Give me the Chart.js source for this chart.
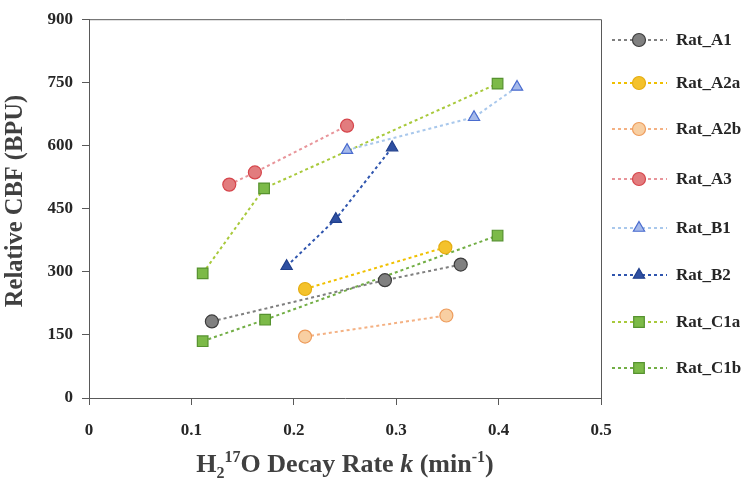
<!DOCTYPE html>
<html>
<head>
<meta charset="utf-8">
<script src="https://cdn.jsdelivr.net/npm/chart.js@4.4.1/dist/chart.umd.min.js"></script>
<style>
  html, body { margin: 0; padding: 0; background: #fff; }
  #wrap { width: 750px; height: 486px; position: relative; }
</style>
</head>
<body>
<div id="wrap"><canvas id="chart"></canvas></div>
<script>
// series names (legend order)
const seriesNames = ["Rat_A1", "Rat_A2a", "Rat_A2b", "Rat_A3", "Rat_B1", "Rat_B2", "Rat_C1a", "Rat_C1b"];

// decay rate k (min-1) and relative CBF (BPU)
const kA1 = [0.120, 0.289, 0.363];
const cbfA1 = [182, 280, 317];
const kA2a = [0.211, 0.348];
const cbfA2a = [259, 358];
const kA2b = [0.211, 0.349];
const cbfA2b = [146, 196];
const kA3 = [0.137, 0.162, 0.252];
const cbfA3 = [507, 536, 647];
const kB1 = [0.252, 0.376, 0.418];
const cbfB1 = [589, 667, 739];
const kB2 = [0.193, 0.241, 0.296];
const cbfB2 = [313, 425, 595];
const kC1a = [0.111, 0.171, 0.399];
const cbfC1a = [296, 498, 747];
const kC1b = [0.111, 0.172, 0.399];
const cbfC1b = [135, 186, 386];

// axis ticks
const xTickValues = [0, 0.1, 0.2, 0.3, 0.4, 0.5];
const yTickValues = [0, 150, 300, 450, 600, 750, 900];

const serif = "'Liberation Serif', 'Times New Roman', serif";

// style per series: marker, fill, edge, line colour
const styles = [
  { shape: "circle", fill: "#808080", edge: "#3d3d3d", line: "#7f7f7f", r: 6.5 },
  { shape: "circle", fill: "#f4c22b", edge: "#e5ad12", line: "#f0c000", r: 6.5 },
  { shape: "circle", fill: "#f8cfa2", edge: "#ee9c5c", line: "#f4b183", r: 6.5 },
  { shape: "circle", fill: "#e27c7e", edge: "#d6464c", line: "#e8959a", r: 6.5 },
  { shape: "triangle", fill: "#a5b9ea", edge: "#4a6ccf", line: "#a9c8ec", r: 6.5 },
  { shape: "triangle", fill: "#2f50a2", edge: "#203f8c", line: "#2f55ae", r: 6.5 },
  { shape: "rect", fill: "#7cba48", edge: "#56922f", line: "#a8c93b", r: 7.5 },
  { shape: "rect", fill: "#7cba48", edge: "#56922f", line: "#72ae45", r: 7.5 }
];

const allK = [kA1, kA2a, kA2b, kA3, kB1, kB2, kC1a, kC1b];
const allCbf = [cbfA1, cbfA2a, cbfA2b, cbfA3, cbfB1, cbfB2, cbfC1a, cbfC1b];

const datasets = seriesNames.map((name, i) => ({
  label: name,
  data: allK[i].map((k, j) => ({ x: k, y: allCbf[i][j] })),
  showLine: true,
  borderColor: styles[i].line,
  borderWidth: 2,
  borderDash: [3, 3],
  pointStyle: styles[i].shape,
  pointRadius: styles[i].r,
  pointBackgroundColor: styles[i].fill,
  pointBorderColor: styles[i].edge,
  pointBorderWidth: 1.2,
  pointHoverRadius: styles[i].r
}));

// small marker helper for the legend
function drawMarker(ctx, st, x, y) {
  ctx.save();
  ctx.fillStyle = st.fill;
  ctx.strokeStyle = st.edge;
  ctx.lineWidth = 1.2;
  ctx.setLineDash([]);
  ctx.beginPath();
  if (st.shape == "circle") {
    ctx.arc(x, y, st.r, 0, Math.PI * 2);
  } else if (st.shape == "triangle") {
    const r = st.r;
    ctx.moveTo(x, y - r);
    ctx.lineTo(x + r * Math.sin(Math.PI / 3), y + r / 2);
    ctx.lineTo(x - r * Math.sin(Math.PI / 3), y + r / 2);
    ctx.closePath();
  } else {
    const s = st.r * Math.SQRT1_2;
    ctx.rect(x - s, y - s, 2 * s, 2 * s);
  }
  ctx.fill();
  ctx.stroke();
  ctx.restore();
}

// frame, axis titles and legend
const extras = {
  id: "extras",
  afterDraw(chart) {
    const ctx = chart.ctx;
    const a = chart.chartArea;

    // top / right frame
    ctx.save();
    ctx.strokeStyle = "#595959";
    ctx.lineWidth = 1;
    ctx.beginPath();
    ctx.moveTo(a.left, a.top + 0.5);
    ctx.lineTo(a.right + 0.5, a.top + 0.5);
    ctx.lineTo(a.right + 0.5, a.bottom);
    ctx.stroke();
    ctx.restore();

    // y title
    ctx.save();
    ctx.translate(16, 201);
    ctx.rotate(-Math.PI / 2);
    ctx.font = "bold 24.5px " + serif;
    ctx.fillStyle = "#404040";
    ctx.textAlign = "center";
    ctx.textBaseline = "middle";
    ctx.fillText("Relative CBF (BPU)", 0, 0);
    ctx.restore();

    // x title with sub/superscripts and italic k
    const big = 26, small = 16;
    const parts = [
      { t: "H", f: "bold " + big + "px ", dy: 0 },
      { t: "2", f: "bold " + small + "px ", dy: 6 },
      { t: "17", f: "bold " + small + "px ", dy: -10 },
      { t: "O Decay Rate ", f: "bold " + big + "px ", dy: 0 },
      { t: "k", f: "italic bold " + big + "px ", dy: 0 },
      { t: " (min", f: "bold " + big + "px ", dy: 0 },
      { t: "-1", f: "bold " + small + "px ", dy: -10 },
      { t: ")", f: "bold " + big + "px ", dy: 0 }
    ];
    ctx.save();
    ctx.fillStyle = "#404040";
    ctx.textBaseline = "alphabetic";
    let total = 0;
    parts.forEach(p => { ctx.font = p.f + serif; total += ctx.measureText(p.t).width; });
    let x = 345 - total / 2;
    parts.forEach(p => {
      ctx.font = p.f + serif;
      ctx.fillText(p.t, x, 472 + p.dy);
      x += ctx.measureText(p.t).width;
    });
    ctx.restore();

    // legend
    ctx.save();
    const legendY = [40, 83, 129, 179, 228, 275, 322, 368];
    seriesNames.forEach((name, i) => {
      const st = styles[i];
      const y = legendY[i];
      ctx.strokeStyle = st.line;
      ctx.lineWidth = 2;
      ctx.setLineDash([3, 3]);
      ctx.beginPath();
      ctx.moveTo(612, y);
      ctx.lineTo(667, y);
      ctx.stroke();
      drawMarker(ctx, st, 639, y);
      ctx.fillStyle = "#262626";
      ctx.font = "bold 17px " + serif;
      ctx.textBaseline = "middle";
      ctx.textAlign = "left";
      ctx.fillText(name, 676, y + 1);
    });
    ctx.restore();
  }
};

new Chart(document.getElementById("chart"), {
  type: "scatter",
  data: { datasets: datasets },
  options: {
    responsive: true,
    maintainAspectRatio: false,
    animation: false,
    layout: { padding: { left: 0, right: 149, top: 14, bottom: 0 } },
    plugins: {
      legend: { display: false },
      tooltip: { enabled: false }
    },
    scales: {
      x: {
        type: "linear",
        min: 0,
        max: 0.5,
        afterBuildTicks: (scale) => {
          scale.ticks = xTickValues.map(v => ({ value: v }));
        },
        afterFit: (scale) => { scale.height = 88; },
        border: { color: "#595959", width: 1 },
        grid: { drawOnChartArea: false, drawTicks: true, tickLength: 7, color: "#595959" },
        ticks: {
          color: "#262626",
          padding: 15,
          font: { family: serif, size: 17, weight: "bold" },
          callback: (v) => v == 0 ? "0" : String(Number(v.toFixed(1)))
        }
      },
      y: {
        min: 0,
        max: 900,
        afterBuildTicks: (scale) => {
          scale.ticks = yTickValues.map(v => ({ value: v }));
        },
        afterFit: (scale) => { scale.width = 89; },
        border: { color: "#595959", width: 1 },
        grid: { drawOnChartArea: false, drawTicks: true, tickLength: 7, color: "#595959" },
        ticks: {
          color: "#262626",
          padding: 9,
          font: { family: serif, size: 17, weight: "bold" }
        }
      }
    }
  },
  plugins: [extras]
});
</script>
</body>
</html>
